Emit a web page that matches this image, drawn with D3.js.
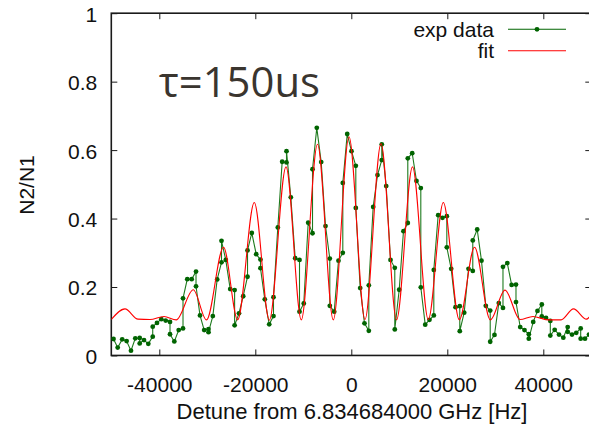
<!DOCTYPE html>
<html>
<head>
<meta charset="utf-8">
<script src="https://cdn.jsdelivr.net/npm/d3@7"></script>
<style>
  html, body { margin: 0; padding: 0; background: #fff; }
  svg { display: block; }
  text { font-family: "Liberation Sans", Arial, sans-serif; fill: #111; }
</style>
</head>
<body>
<svg id="chart" width="589" height="424"></svg>
<script>
// Measured transition probability vs. detuning (Hz, N2/N1)
const expDetune = [
  -49540, -48670, -47730, -46810, -45900, -45000, -44080, -44080, -43190, -42290,
  -41370, -41370, -40480, -39580, -38670, -37770, -37770, -36870, -35960, -35060,
  -35060, -34170, -33250, -32350, -32350, -31520, -30650, -29750, -29750, -28850,
  -27940, -27040, -27040, -26150, -25230, -24310, -24310, -23400, -22520, -21620,
  -21620, -20730, -19810, -18920, -18920, -18020, -17100, -16210, -16210, -15310,
  -14400, -13500, -13500, -12600, -11690, -10790, -10790, -9900, -8980, -8080,
  -8080, -7190, -6270, -5370, -4480, -4480, -3560, -2670, -1770, -1770,
  -850, 40, 940, 940, 1850, 2750, 3650, 3650, 4560, 5460,
  6350, 6350, 7270, 8170, 9060, 9060, 9980, 10870, 11770, 11770,
  12690, 13580, 14480, 14480, 15400, 16290, 17190, 17190, 18100, 19000,
  19900, 19900, 20810, 21710, 22600, 22600, 23520, 24420, 25310, 25310,
  26230, 27120, 28020, 28940, 28940, 29830, 30730, 31600, 31600, 32500,
  33400, 34310, 34310, 35190, 36080, 36980, 36980, 37900, 38790, 39690,
  39690, 40560, 41460, 41460, 42370, 43270, 44170, 45080, 45080, 45980,
  46870, 47790, 47790, 48690, 49520
];
const expRatio = [
  0.048, 0.023, 0.047, 0.042, 0.014, 0.050, 0.051, 0.035, 0.045, 0.034,
  0.055, 0.084, 0.095, 0.106, 0.102, 0.098, 0.062, 0.041, 0.074, 0.079,
  0.167, 0.223, 0.223, 0.245, 0.202, 0.117, 0.074, 0.077, 0.068, 0.115,
  0.222, 0.272, 0.335, 0.279, 0.194, 0.191, 0.088, 0.123, 0.173, 0.230,
  0.307, 0.358, 0.296, 0.280, 0.255, 0.164, 0.091, 0.115, 0.170, 0.374,
  0.566, 0.564, 0.597, 0.462, 0.284, 0.279, 0.128, 0.152, 0.388, 0.357,
  0.544, 0.665, 0.565, 0.378, 0.283, 0.145, 0.128, 0.277, 0.300, 0.504,
  0.647, 0.597, 0.554, 0.431, 0.197, 0.094, 0.072, 0.205, 0.434, 0.527,
  0.571, 0.617, 0.495, 0.279, 0.256, 0.076, 0.192, 0.363, 0.387, 0.576,
  0.591, 0.510, 0.489, 0.199, 0.090, 0.104, 0.117, 0.250, 0.410, 0.402,
  0.407, 0.316, 0.253, 0.141, 0.144, 0.071, 0.125, 0.253, 0.247, 0.336,
  0.368, 0.277, 0.145, 0.131, 0.040, 0.060, 0.153, 0.139, 0.259, 0.270,
  0.206, 0.207, 0.156, 0.083, 0.074, 0.062, 0.049, 0.098, 0.130, 0.149,
  0.114, 0.110, 0.101, 0.058, 0.075, 0.061, 0.052, 0.083, 0.069, 0.061,
  0.066, 0.079, 0.049, 0.049, 0.061
];

// Fitted Ramsey fringe: turning points of the fit curve
const fitDetune = [
  -50000, -47150, -44440, -41940, -39020, -36460, -32920, -30170, -26620, -23670,
  -20210, -17080, -13600, -10420, -7040, -3750, -480, 2850, 6190, 9420,
  12750, 16040, 19170, 22500, 25670, 28960, 32020, 35150, 37850, 40980,
  43690, 46290, 49000, 50000
];
const fitRatio = [
  0.105, 0.136, 0.106, 0.105, 0.114, 0.104, 0.192, 0.104, 0.316, 0.104,
  0.447, 0.103, 0.551, 0.104, 0.617, 0.104, 0.639, 0.105, 0.619, 0.104,
  0.551, 0.105, 0.447, 0.104, 0.316, 0.104, 0.191, 0.105, 0.114, 0.104,
  0.104, 0.136, 0.106, 0.121
];

const xTicks = [-40000, -20000, 0, 20000, 40000];
const yTicks = [0, 0.2, 0.4, 0.6, 0.8, 1];
const yTickLabels = ["0", "0.2", "0.4", "0.6", "0.8", "1"];
const seriesNames = ["exp data", "fit"];

const svg = d3.select("#chart");
const plotL = 111.3, plotR = 591.3, plotT = 13.2, plotB = 355.45;

const x = d3.scaleLinear().domain([-50000, 50000]).range([plotL, plotR]);
const y = d3.scaleLinear().domain([0, 1]).range([plotB, plotT]);

const green = "#006400", red = "#ff0000", axisColor = "#1a1a1a";
const tickLen = 6;

svg.append("defs").append("clipPath").attr("id", "plotClip")
  .append("rect").attr("x", plotL).attr("y", plotT)
  .attr("width", plotR - plotL).attr("height", plotB - plotT);

// Axes with inward ticks, mirrored on the opposite sides
const xBottom = d3.axisBottom(x).tickValues(xTicks).tickSize(-tickLen).tickFormat(d => String(d));
const xTop = d3.axisTop(x).tickValues(xTicks).tickSize(-tickLen).tickFormat("");
const yLeft = d3.axisLeft(y).tickValues(yTicks).tickSize(-tickLen).tickFormat((d, i) => yTickLabels[i]);
const yRight = d3.axisRight(y).tickValues(yTicks).tickSize(-tickLen).tickFormat("");

function styleAxis(g) {
  g.select(".domain").remove();
  g.selectAll(".tick line").attr("stroke", axisColor).attr("stroke-width", 1);
  g.selectAll(".tick text").attr("fill", "#111")
    .style("font-size", "21px").style("font-family", '"Liberation Sans", Arial, sans-serif');
}

svg.append("g").attr("transform", `translate(0,${plotB})`).call(xBottom).call(styleAxis)
  .call(g => g.selectAll(".tick text").attr("y", 37).attr("dy", 0));
svg.append("g").attr("transform", `translate(0,${plotT})`).call(xTop).call(styleAxis);
svg.append("g").attr("transform", `translate(${plotL},0)`).call(yLeft).call(styleAxis)
  .call(g => g.selectAll(".tick text").attr("x", -14).attr("dy", "0.38em"));
svg.append("g").attr("transform", `translate(${plotR},0)`).call(yRight).call(styleAxis);

// Plot frame
svg.append("rect")
  .attr("x", plotL).attr("y", plotT)
  .attr("width", plotR - plotL).attr("height", plotB - plotT)
  .attr("fill", "none").attr("stroke", axisColor).attr("stroke-width", 1.6);

const plot = svg.append("g").attr("clip-path", "url(#plotClip)");

const expData = expDetune.map((d, i) => [d, expRatio[i]]);
const fitData = fitDetune.map((d, i) => [d, fitRatio[i]]);

plot.append("path")
  .datum(expData)
  .attr("fill", "none")
  .attr("stroke", "#1d7a1d").attr("stroke-width", 1.1)
  .attr("d", d3.line().x(d => x(d[0])).y(d => y(d[1])));

plot.selectAll("circle.pt").data(expData).enter().append("circle")
  .attr("class", "pt")
  .attr("cx", d => x(d[0])).attr("cy", d => y(d[1]))
  .attr("r", 2.4).attr("fill", green);

plot.append("path")
  .datum(fitData)
  .attr("fill", "none")
  .attr("stroke", red).attr("stroke-width", 1.1)
  .attr("d", d3.line().curve(d3.curveMonotoneX).x(d => x(d[0])).y(d => y(d[1])));

// Legend
const legend = svg.append("g");
const legendRows = [{ name: seriesNames[0], color: green, ly: 29.3, marker: true },
                    { name: seriesNames[1], color: red, ly: 50.7, marker: false }];
legendRows.forEach(r => {
  legend.append("text").attr("x", 494).attr("y", r.ly).attr("dy", "0.36em")
    .attr("text-anchor", "end").style("font-size", "21px").text(r.name);
  legend.append("line").attr("x1", 508).attr("x2", 566).attr("y1", r.ly).attr("y2", r.ly)
    .attr("stroke", r.color).attr("stroke-width", 1.1);
  if (r.marker) {
    legend.append("circle").attr("cx", 537).attr("cy", r.ly).attr("r", 2.4).attr("fill", r.color);
  }
});

// Axis titles
svg.append("text").attr("x", 352).attr("y", 419).attr("text-anchor", "middle")
  .style("font-size", "22px").text("Detune from 6.834684000 GHz [Hz]");
svg.append("text").attr("transform", "translate(34,185) rotate(-90)")
  .attr("text-anchor", "middle").style("font-size", "21px").text("N2/N1");

// Pulse separation annotation
svg.append("text").attr("x", 159).attr("y", 97)
  .style("font-family", '"Open Sans", "Noto Sans", sans-serif')
  .style("font-size", "42px").style("fill", "#3a352f")
  .attr("textLength", 161).attr("lengthAdjust", "spacingAndGlyphs")
  .text("τ=150us");
</script>
</body>
</html>
